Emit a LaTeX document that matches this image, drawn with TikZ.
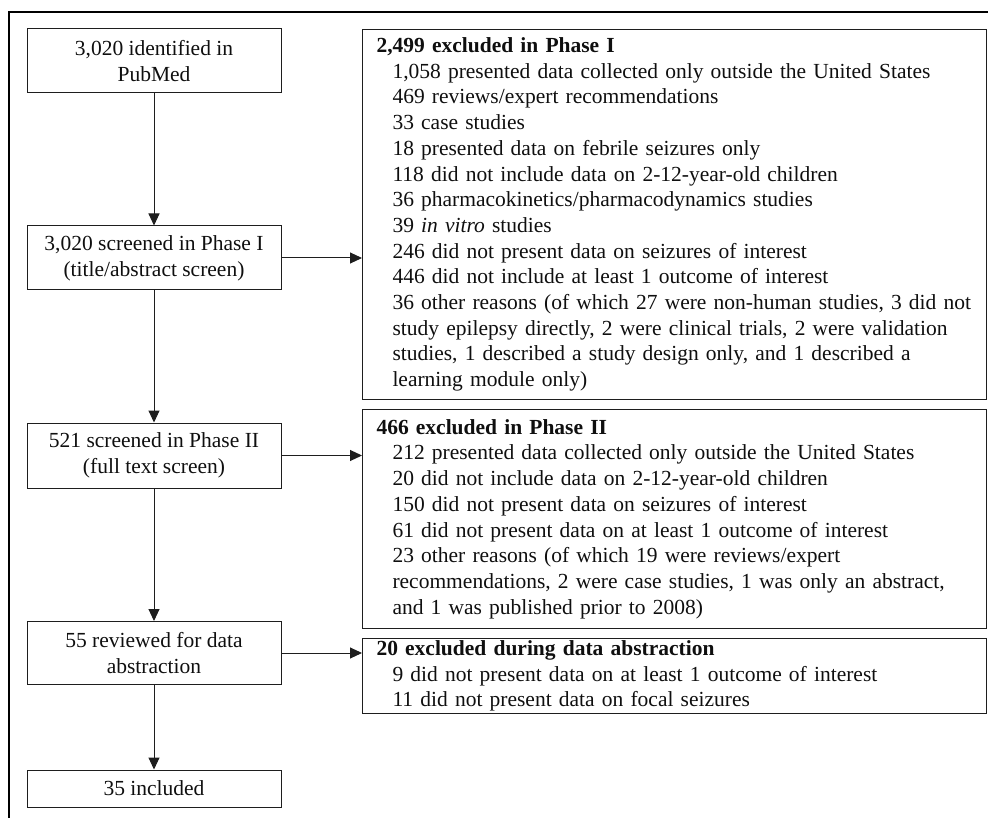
\documentclass[tikz,border=0pt]{standalone}
\usepackage{fontspec}
\setmainfont{Liberation Serif}
\usetikzlibrary{arrows.meta}
\definecolor{linec}{RGB}{30,30,30}
\definecolor{textc}{RGB}{15,15,15}
\newcommand{\itm}{\hspace*{30pt}}
\newcommand{\hdr}{\hspace*{14pt}}
\begin{document}
\begin{tikzpicture}[x=1pt,y=-1pt,
  every node/.style={font=\fontsize{21.5}{25.7}\selectfont, text=textc},
  lbox/.style={draw=linec, line width=1pt, minimum width=254pt, align=center, inner sep=0pt},
  ebox/.style={draw=linec, line width=1pt, anchor=north west, text width=624pt, inner xsep=0pt, inner ysep=0pt, align=left},
  arr/.style={draw=linec, -{Triangle[length=12pt,width=11pt]}, line width=1pt}]
\path[use as bounding box] (0,0) rectangle (988,818);
\draw[line width=1.9pt, black] (988,12) -- (9,12) -- (9,818);

\node[lbox, minimum height=64pt] (b1) at (154,61) {3,020 identified in\\PubMed};
\node[lbox, minimum height=64pt] (b2) at (154,258) {3,020 screened in Phase I\\(title/abstract screen)};
\node[lbox, minimum height=65pt] (b3) at (154,455.5) {521 screened in Phase II\\(full text screen)};
\node[lbox, minimum height=63pt] (b4) at (154,653) {55 reviewed for data\\abstraction};
\node[lbox, minimum height=37pt] (b5) at (154,788.5) {35 included};

\node[ebox, minimum height=370pt] (e1) at (362,29) {\hdr\textbf{2,499 excluded in Phase I}\\
\itm 1,058 presented data collected only outside the United States\\
\itm 469 reviews/expert recommendations\\
\itm 33 case studies\\
\itm 18 presented data on febrile seizures only\\
\itm 118 did not include data on 2-12-year-old children\\
\itm 36 pharmacokinetics/pharmacodynamics studies\\
\itm 39 \textit{in vitro} studies\\
\itm 246 did not present data on seizures of interest\\
\itm 446 did not include at least 1 outcome of interest\\
\itm 36 other reasons (of which 27 were non-human studies, 3 did not\\
\itm study epilepsy directly, 2 were clinical trials, 2 were validation\\
\itm studies, 1 described a study design only, and 1 described a\\
\itm learning module only)};

\node[ebox, minimum height=219pt] (e2) at (362,409) {\hdr\textbf{466 excluded in Phase II}\\
\itm 212 presented data collected only outside the United States\\
\itm 20 did not include data on 2-12-year-old children\\
\itm 150 did not present data on seizures of interest\\
\itm 61 did not present data on at least 1 outcome of interest\\
\itm 23 other reasons (of which 19 were reviews/expert\\
\itm recommendations, 2 were case studies, 1 was only an abstract,\\
\itm and 1 was published prior to 2008)};

\node[ebox, minimum height=75pt] (e3) at (362,638) {\hdr\textbf{20 excluded during data abstraction}\\
\itm 9 did not present data on at least 1 outcome of interest\\
\itm 11 did not present data on focal seizures};

\draw[arr] (b1) -- (b2);
\draw[arr] (b2) -- (b3);
\draw[arr] (b3) -- (b4);
\draw[arr] (b4) -- (b5);
\draw[arr] (b2.east) -- (b2.east -| e1.west);
\draw[arr] (b3.east) -- (b3.east -| e2.west);
\draw[arr] (b4.east) -- (b4.east -| e3.west);
\end{tikzpicture}
\end{document}
